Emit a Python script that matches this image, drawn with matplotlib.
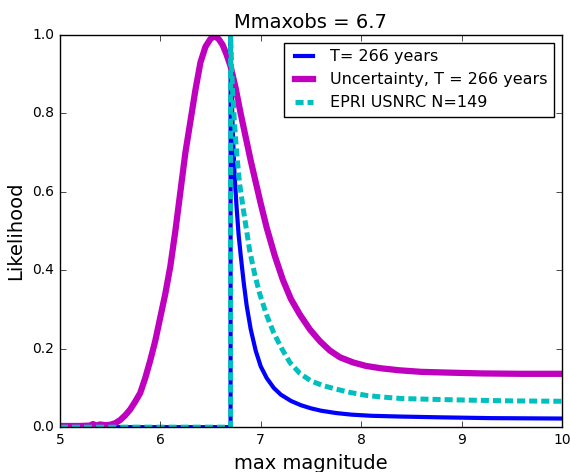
import matplotlib
matplotlib.use("Agg")
import matplotlib.pyplot as plt

plt.style.use("classic")
plt.rcParams["lines.scale_dashes"] = False

# T = 266 years
m_t = [5.0, 6.70, 6.70, 6.705, 6.71, 6.72, 6.73, 6.74, 6.76, 6.78, 6.80, 6.83, 6.86, 6.90,
       6.95, 7.00, 7.06, 7.13, 7.20, 7.30, 7.40, 7.50, 7.60, 7.75, 7.90, 8.1, 8.4, 8.8,
       9.3, 10.0]
l_t = [0.0, 0.0, 1.0, 0.93, 0.86, 0.77, 0.70, 0.64, 0.56, 0.49, 0.44, 0.37, 0.31, 0.25,
       0.195, 0.155, 0.125, 0.100, 0.083, 0.067, 0.056, 0.048, 0.042, 0.036, 0.032, 0.029,
       0.027, 0.025, 0.023, 0.022]

# Uncertainty, T = 266 years
m_u = [5.0, 5.2, 5.3, 5.33, 5.36, 5.4, 5.45, 5.5, 5.55, 5.6, 5.65, 5.7, 5.75, 5.8, 5.85,
       5.9, 5.95, 6.0, 6.05, 6.1, 6.15, 6.2, 6.25, 6.3, 6.35, 6.4, 6.45, 6.5, 6.54, 6.58,
       6.62, 6.66, 6.70, 6.75, 6.80, 6.85, 6.90, 6.95, 7.00, 7.06, 7.14, 7.22, 7.30, 7.39,
       7.49, 7.59, 7.69, 7.79, 7.92, 8.05, 8.2, 8.38, 8.6, 8.88, 9.2, 9.6, 10.0]
l_u = [0.003, 0.003, 0.004, 0.008, 0.004, 0.007, 0.005, 0.006, 0.010, 0.018, 0.030, 0.045,
       0.065, 0.087, 0.125, 0.17, 0.22, 0.28, 0.34, 0.41, 0.50, 0.60, 0.70, 0.78, 0.86,
       0.93, 0.97, 0.99, 0.997, 0.99, 0.975, 0.95, 0.92, 0.865, 0.80, 0.74, 0.68, 0.625,
       0.57, 0.508, 0.437, 0.376, 0.327, 0.287, 0.249, 0.219, 0.195, 0.178, 0.165, 0.156,
       0.150, 0.145, 0.141, 0.139, 0.137, 0.136, 0.136]

# EPRI USNRC N=149
m_e = [5.0, 6.70, 6.70, 6.71, 6.72, 6.74, 6.76, 6.79, 6.83, 6.86, 6.89, 6.94, 6.99, 7.06,
       7.13, 7.21, 7.29, 7.39, 7.50, 7.62, 7.75, 7.90, 8.05, 8.2, 8.4, 8.7, 9.05, 9.5, 10.0]
l_e = [0.0, 0.0, 1.0, 0.92, 0.86, 0.77, 0.70, 0.62, 0.55, 0.50, 0.45, 0.39, 0.34, 0.285,
       0.24, 0.20, 0.165, 0.137, 0.118, 0.106, 0.097, 0.088, 0.081, 0.077, 0.073, 0.071,
       0.069, 0.067, 0.066]

fig = plt.figure(figsize=(5.7, 4.72), dpi=100)
ax = fig.add_axes([0.105, 0.095, 0.881, 0.831])

ax.plot(m_t, l_t, color="b", lw=3, label="T= 266 years")
ax.plot(m_u, l_u, color="m", lw=4.5, label="Uncertainty, T = 266 years")
ax.plot(m_e, l_e, color="c", lw=3.6, linestyle=(0, (5.8, 2.9)), label="EPRI USNRC N=149")

ax.set_xlim(5, 10)
ax.set_ylim(0, 1)
ax.set_xticks([5, 6, 7, 8, 9, 10])
ax.set_yticks([0.0, 0.2, 0.4, 0.6, 0.8, 1.0])
ax.tick_params(labelsize=10)
ax.set_xlabel("max magnitude", fontsize=14)
ax.set_ylabel("Likelihood", fontsize=14)
ax.set_title("Mmaxobs = 6.7", fontsize=14)
ax.legend(loc="upper right", fontsize=11.5, handlelength=1.7)

fig.savefig("out.png", dpi=100)
